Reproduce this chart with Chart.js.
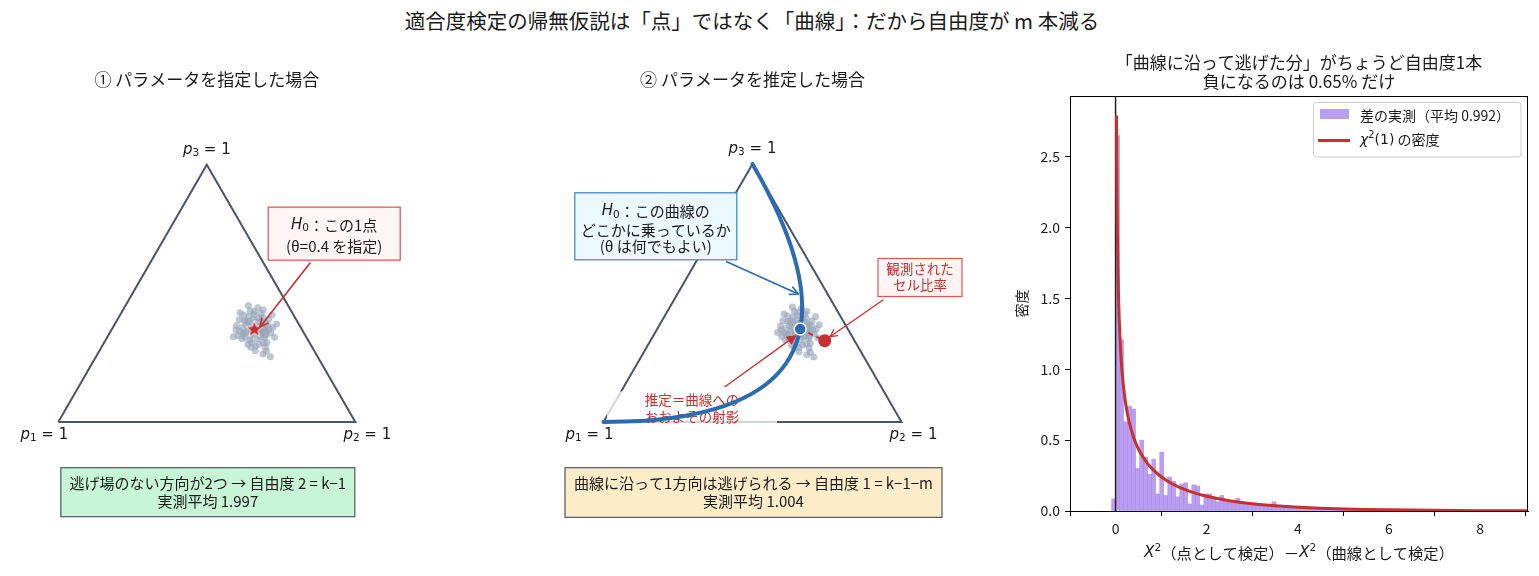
<!DOCTYPE html>
<html><head><meta charset="utf-8">
<script src="https://cdn.jsdelivr.net/npm/chart.js@4.4.1/dist/chart.umd.min.js"></script>
<style>
html,body{margin:0;padding:0;background:#fff;}
#wrap{position:relative;width:1539px;height:576px;overflow:hidden;background:#fff;}
canvas{position:absolute;top:0;}
#suptitle{position:absolute;left:0;top:0;width:1504px;text-align:center;font-size:20.5px;font-family:"Noto Sans CJK JP","Noto Sans",sans-serif;color:#1a1a1a;line-height:40px;white-space:nowrap;}
</style></head>
<body><div id="wrap">
<div id="suptitle">適合度検定の帰無仮説は「点」ではなく「曲線」：だから自由度が m 本減る</div>
<canvas id="c1" width="500" height="576" style="left:0px"></canvas>
<canvas id="c2" width="500" height="576" style="left:500px"></canvas>
<canvas id="c3" width="539" height="576" style="left:1000px"></canvas>
</div>
<script>
// ================= DATA =================
const panelTitles = ['① パラメータを指定した場合', '② パラメータを推定した場合'];
const rightTitle = ['「曲線に沿って逃げた分」がちょうど自由度1本', '負になるのは 0.65% だけ'];
// simplex vertices (p1, p2, p3)
const simplexVertices = [[1,0,0],[0,1,0],[0,0,1]];
// H0 point (fixed parameter) and estimated / observed cell proportions (p1,p2,p3)
const h0Point = [0.16, 0.48, 0.36];
const estimatePoint = [0.16, 0.48, 0.36];
const observedPoint = [0.10, 0.585, 0.315];
// H0 curve (p2, p3) along theta
const hwCurveP2 = [0,0.095,0.18,0.255,0.32,0.375,0.42,0.455,0.48,0.495,0.5,0.495,0.48,0.455,0.42,0.375,0.32,0.255,0.18,0.095,0];
const hwCurveP3 = [0,0.0025,0.01,0.0225,0.04,0.0625,0.09,0.1225,0.16,0.2025,0.25,0.3025,0.36,0.4225,0.49,0.5625,0.64,0.7225,0.81,0.9025,1];
// simulated observed proportions, simplex-plane coordinates
const cloudFixed = [[0.662,0.308],[0.640,0.320],[0.681,0.295],[0.655,0.335],[0.690,0.318],[0.628,0.300],[0.670,0.280],[0.648,0.290],[0.700,0.305],[0.635,0.340],
[0.675,0.350],[0.620,0.318],[0.660,0.362],[0.695,0.285],[0.652,0.268],[0.685,0.338],[0.612,0.305],[0.705,0.325],[0.642,0.355],[0.668,0.322],
[0.658,0.296],[0.677,0.310],[0.630,0.285],[0.690,0.268],[0.715,0.300],[0.600,0.325],[0.646,0.375],[0.683,0.365],[0.625,0.360],[0.708,0.345],
[0.664,0.255],[0.638,0.262],[0.697,0.252],[0.672,0.385],[0.618,0.280],[0.722,0.318],[0.650,0.310],[0.672,0.300],[0.686,0.326],[0.636,0.308],
[0.656,0.346],[0.699,0.293],[0.610,0.345],[0.728,0.285],[0.663,0.240],[0.640,0.392],[0.690,0.378],[0.605,0.290],[0.720,0.360],[0.676,0.262],
[0.645,0.276],[0.668,0.338],[0.632,0.328],[0.694,0.310],[0.657,0.322],[0.680,0.288],[0.626,0.342],[0.702,0.268],[0.612,0.368],[0.735,0.330],
[0.660,0.372],[0.648,0.252],[0.688,0.352],[0.622,0.298],[0.710,0.312],[0.670,0.315],[0.652,0.302],[0.640,0.336],[0.684,0.304],[0.698,0.332],
[0.714,0.220],[0.689,0.229],[0.589,0.287],[0.598,0.310],[0.700,0.238]];
const cloudEstimated = [[0.655,0.300],[0.632,0.318],[0.674,0.290],[0.648,0.330],[0.684,0.312],[0.620,0.296],[0.662,0.274],[0.640,0.285],[0.692,0.300],[0.628,0.338],
[0.668,0.346],[0.612,0.314],[0.652,0.358],[0.688,0.280],[0.645,0.262],[0.678,0.334],[0.604,0.300],[0.698,0.322],[0.636,0.352],[0.660,0.318],
[0.650,0.292],[0.670,0.306],[0.622,0.280],[0.682,0.262],[0.708,0.296],[0.594,0.322],[0.640,0.372],[0.676,0.362],[0.618,0.356],[0.700,0.340],
[0.656,0.250],[0.630,0.258],[0.690,0.248],[0.664,0.382],[0.610,0.276],[0.714,0.312],[0.642,0.306],[0.664,0.296],[0.678,0.322],[0.628,0.304],
[0.648,0.342],[0.692,0.288],[0.602,0.340],[0.720,0.282],[0.656,0.236],[0.634,0.386],[0.682,0.372],[0.598,0.286],[0.712,0.354],[0.668,0.258],
[0.638,0.272],[0.660,0.334],[0.624,0.324],[0.686,0.306],[0.650,0.318],[0.672,0.284],[0.618,0.338],[0.694,0.264],[0.606,0.362],[0.724,0.326],
[0.652,0.368],[0.640,0.248],[0.680,0.348],[0.614,0.294],[0.702,0.308],[0.662,0.310],[0.644,0.298],[0.632,0.332],[0.676,0.300],[0.690,0.328],
[0.706,0.218],[0.682,0.226],[0.584,0.300],[0.596,0.308],[0.694,0.234]];
// histogram of difference (density)
const histBinCenters = [-0.044,0.044,0.132,0.22,0.308,0.396,0.484,0.572,0.66,0.748,0.836,0.924,1.012,1.1,1.188,1.276,1.364,1.452,1.54,1.628,1.716,1.804,1.892,1.98,2.068,2.156,2.244,2.332,2.42,2.508,2.596,2.684,2.772,2.86,2.948,3.036,3.124,3.212,3.3,3.388,3.476,3.564,3.652,3.74,3.828,3.916,4.004,4.092,4.18,4.268,4.356,4.444,4.532,4.62,4.708,4.796,4.884,4.972,5.06,5.148,5.236,5.324,5.412,5.5,5.588,5.676,5.764,5.852,5.94,6.028,6.116];
const histDensity = [0.085,2.65,1.21,0.63,0.74,0.72,0.30,0.50,0.38,0.26,0.366,0.12,0.415,0.11,0.24,0.21,0.10,0.19,0.20,0.05,0.185,0.176,0.042,
0.12,0.12,0.09,0.065,0.11,0.07,0.07,0.06,0.09,0.05,0.05,0.045,0.04,0.045,0.035,0.04,0.03,0.065,0.03,0.025,0.03,0.02,0.025,0.02,0.018,0.02,0.015,0.012,0.015,0.01,0.012,0.008,0.01,0.008,0.006,0.008,0.005,0.006,0.004,0.005,0.003,0.004,0.003,0.002,0.003,0.002,0.002,0.001];
// chi-square(1) density
const chiX = [0.02,0.025,0.03,0.04,0.05,0.06,0.07,0.08,0.1,0.12,0.15,0.2,0.25,0.3,0.4,0.5,0.6,0.7,0.8,1.0,1.25,1.5,1.75,2.0,2.5,3.0,3.5,4.0,4.5,5.0,5.5,6.0,7.0,8.0,9.0,9.5];
const chiY = [2.793,2.492,2.269,1.955,1.740,1.580,1.456,1.355,1.200,1.085,0.956,0.807,0.704,0.627,0.516,0.439,0.382,0.336,0.299,0.242,0.191,0.154,0.126,0.104,0.0723,0.0514,0.0371,0.0270,0.0198,0.0146,0.0109,0.0081,0.0046,0.0026,0.0015,0.0011];
const xTicks = [0,2,4,6,8];
const yTicks = [0,0.5,1.0,1.5,2.0,2.5];
const legendLabels = ['差の実測（平均 0.992）', 'χ²(1) の密度'];

// ================= HELPERS =================
const JP = '"Noto Sans CJK JP","Noto Sans",sans-serif';
const MATH = '"DejaVu Sans",sans-serif';
const S3 = Math.sqrt(3)/2;
const toXY = p => ({x: p[1] + p[2]/2, y: p[2]*S3});
const INK = '#1a1a1a';
const RED = '#c53030';
const BLUE = '#2b6cb0';
const SLATE = '#4a5568';
const PURPLE = 'rgba(159,122,234,0.72)';
const CLOUD = 'rgba(148,163,184,0.62)';

function segFont(s, size){
  if (s==='i') return `italic ${size}px ${MATH}`;
  if (s==='m') return `${size}px ${MATH}`;
  if (s==='sub'||s==='sup') return `${(size*0.7).toFixed(1)}px ${MATH}`;
  return `${size}px ${JP}`;
}
const norm = l => typeof l === 'string' ? [[l,'']] : l;
function richWidth(ctx, line, size){ let w=0; for (const [t,s] of norm(line)){ ctx.font=segFont(s,size); w+=ctx.measureText(t).width; } return w; }
function drawRich(ctx, line, x, y, size, color, align){
  const segs = norm(line); const w = richWidth(ctx, segs, size);
  let cx = align==='left' ? x : (align==='right' ? x-w : x-w/2);
  ctx.save(); ctx.fillStyle=color; ctx.textBaseline='middle'; ctx.textAlign='left';
  for (const [t,s] of segs){
    ctx.font = segFont(s,size);
    const dy = s==='sub' ? size*0.22 : (s==='sup' ? -size*0.33 : 0);
    ctx.fillText(t, cx, y+dy); cx += ctx.measureText(t).width;
  }
  ctx.restore();
}
function drawBox(ctx, cx, cy, w, h, fill, stroke, lw){
  ctx.save(); ctx.fillStyle=fill; ctx.fillRect(cx-w/2, cy-h/2, w, h);
  if (stroke){ ctx.strokeStyle=stroke; ctx.lineWidth=lw; ctx.strokeRect(cx-w/2, cy-h/2, w, h); }
  ctx.restore();
}
function textBox(ctx, cx, cy, w, h, lines, offs, size, color, fill, stroke, lw){
  if (fill) drawBox(ctx, cx, cy, w, h, fill, stroke, lw);
  lines.forEach((l,i)=>drawRich(ctx, l, cx, cy+offs[i], size, color, 'center'));
}
function drawArrow(ctx, x1,y1,x2,y2,color,lw,filled,hl,hw){
  const a = Math.atan2(y2-y1, x2-x1), c=Math.cos(a), s=Math.sin(a);
  const bx = x2-hl*c, by = y2-hl*s, nx=-s, ny=c;
  ctx.save(); ctx.strokeStyle=color; ctx.fillStyle=color; ctx.lineWidth=lw; ctx.lineCap='round'; ctx.lineJoin='round';
  ctx.beginPath(); ctx.moveTo(x1,y1); ctx.lineTo(filled?bx:x2, filled?by:y2); ctx.stroke();
  ctx.beginPath(); ctx.moveTo(bx+nx*hw, by+ny*hw); ctx.lineTo(x2,y2); ctx.lineTo(bx-nx*hw, by-ny*hw);
  if (filled){ ctx.closePath(); ctx.fill(); } else ctx.stroke();
  ctx.restore();
}
function makeStar(R, r, fill, stroke){
  const c=document.createElement('canvas'); const n=Math.ceil(2*R+4); c.width=n; c.height=n;
  const g=c.getContext('2d'); g.translate(n/2,n/2); g.beginPath();
  for (let i=0;i<10;i++){ const a=-Math.PI/2+i*Math.PI/5, rr=i%2?r:R; g.lineTo(rr*Math.cos(a), rr*Math.sin(a)); }
  g.closePath(); g.fillStyle=fill; g.fill(); g.lineWidth=1; g.strokeStyle=stroke; g.stroke();
  return c;
}
const vertLabel = n => [['p','i'],[String(n),'sub'],[' = 1','m']];
const H0 = t => [['H','i'],['0','sub'],[t,'']];

const triangleXY = simplexVertices.concat([simplexVertices[0]]).map(toXY);
const baseOpts = (xmin,xmax,ymin,ymax) => ({
  responsive:false, maintainAspectRatio:false, animation:false, devicePixelRatio:1, events:[],
  layout:{padding:0, autoPadding:false},
  scales:{ x:{type:'linear', display:false, min:xmin, max:xmax}, y:{type:'linear', display:false, min:ymin, max:ymax} },
  plugins:{ legend:{display:false}, tooltip:{enabled:false}, title:{display:false} }
});

function simplexLabels(chart, ctx, titleText){
  const P = (x,y)=>[chart.scales.x.getPixelForValue(x), chart.scales.y.getPixelForValue(y)];
  const v = simplexVertices.map(toXY).map(q=>P(q.x,q.y));
  drawRich(ctx, vertLabel(1), v[0][0]-14, v[0][1]+13, 15, INK, 'center');
  drawRich(ctx, vertLabel(2), v[1][0]+12, v[1][1]+13, 15, INK, 'center');
  drawRich(ctx, vertLabel(3), v[2][0], v[2][1]-15, 15, INK, 'center');
  drawRich(ctx, titleText, v[2][0], 80, 17, INK, 'center');
  return P;
}

// ================= LEFT PANEL =================
const leftAnnot = {
  id:'leftAnnot',
  afterDatasetsDraw(chart){
    const ctx = chart.ctx;
    const P = simplexLabels(chart, ctx, panelTitles[0]);
    let [bx,by] = P(0.929, 0.6342);
    textBox(ctx, bx, by, 132, 53, [H0('：この1点'), '(θ=0.4 を指定)'], [-8.7, 12.3], 15, INK, '#fff5f5', '#d9534f', 1.2);
    const a = P(0.8475,0.5354), b = P(0.6791,0.3199);
    drawArrow(ctx, a[0],a[1], b[0],b[1], RED, 1.6, false, 8, 4);
    [bx,by] = P(0.5035,-0.2364);
    textBox(ctx, bx, by, 294, 49, ['逃げ場のない方向が2つ → 自由度 2 = k−1', '実測平均 1.997'], [-9, 8.8], 15, INK, '#c6f6d5', SLATE, 1.2);
  }
};
new Chart(document.getElementById('c1'), {
  type:'scatter',
  data:{ datasets:[
    { data: triangleXY, showLine:true, borderColor:SLATE, borderWidth:2, pointRadius:0, tension:0, order:3 },
    { data: cloudFixed.map(([x,y])=>({x,y})), pointRadius:3.5, backgroundColor:CLOUD, borderWidth:0, order:2 },
    { data: [toXY(h0Point)], pointStyle: makeStar(9, 3.8, RED, '#ffffff'), pointRadius:8, order:1 }
  ]},
  options: baseOpts(-58.3/297, (500-58.3)/297, -154/297, 422/297),
  plugins:[leftAnnot]
});

// ================= MIDDLE PANEL =================
const midAnnot = {
  id:'midAnnot',
  afterDatasetDraw(chart, args){
    if (args.index !== 0) return;
    const ctx = chart.ctx;
    const P = (x,y)=>[chart.scales.x.getPixelForValue(x), chart.scales.y.getPixelForValue(y)];
    const [cx,cy] = P(0.297, 0.0458);
    ctx.save(); ctx.fillStyle='rgba(255,255,255,0.75)'; ctx.fillRect(cx-85, cy-17, 170, 36); ctx.restore();
    textBox(ctx, cx, cy, 0, 0, ['推定＝曲線への','おおよその射影'], [-8.3, 8.3], 13.5, RED, null);
  },
  afterDatasetsDraw(chart){
    const ctx = chart.ctx;
    const P = simplexLabels(chart, ctx, panelTitles[1]);
    let [bx,by] = P(0.1755, 0.6567);
    textBox(ctx, bx, by, 162, 67, [H0('：この曲線の'), 'どこかに乗っているか', '(θ は何でもよい)'], [-14.7, 3.6, 20.3], 15, INK, '#ebf8ff', '#3182ce', 1.2);
    let a = P(0.4134,0.5379), b = P(0.6537,0.4295);
    drawArrow(ctx, a[0],a[1], b[0],b[1], BLUE, 1.6, false, 8, 4);
    [bx,by] = P(1.0621, 0.4849);
    textBox(ctx, bx, by, 84, 38, ['観測された','セル比率'], [-8.8, 7.6], 13.5, RED, '#fff5f5', '#e05555', 1.2);
    a = P(0.9379,0.4094); b = P(0.7601,0.2862);
    drawArrow(ctx, a[0],a[1], b[0],b[1], RED, 1.3, false, 7, 3.5);
    a = P(0.4077,0.1185); b = P(0.6483,0.2919);
    drawArrow(ctx, a[0],a[1], b[0],b[1], RED, 1.3, true, 10, 5);
    [bx,by] = P(0.5034,-0.2366);
    textBox(ctx, bx, by, 377, 49.6, ['曲線に沿って1方向は逃げられる → 自由度 1 = k−1−m', '実測平均 1.004'], [-9.2, 8.5], 15, INK, '#feebc8', SLATE, 1.2);
  }
};
new Chart(document.getElementById('c2'), {
  type:'scatter',
  data:{ datasets:[
    { data: triangleXY, showLine:true, borderColor:SLATE, borderWidth:2, pointRadius:0, tension:0, order:7 },
    { data: cloudEstimated.map(([x,y])=>({x,y})), pointRadius:3.5, backgroundColor:CLOUD, borderWidth:0, order:6 },
    { data: hwCurveP2.map((p2,i)=>toXY([1-p2-hwCurveP3[i], p2, hwCurveP3[i]])), showLine:true, borderColor:BLUE, borderWidth:4, pointRadius:0, tension:0.4, borderCapStyle:'round', order:5 },
    { data: [toXY(estimatePoint), toXY(observedPoint)], showLine:true, borderColor:RED, borderWidth:2, borderDash:[5,4], pointRadius:0, order:4 },
    { data: [toXY(observedPoint)], pointRadius:6.5, backgroundColor:RED, borderWidth:0, order:3 },
    { data: [toXY(estimatePoint)], pointRadius:6, backgroundColor:BLUE, borderColor:'#ffffff', borderWidth:1.5, order:2 }
  ]},
  options: baseOpts(-103.5/298, (500-103.5)/298, -154/298, 422/298),
  plugins:[midAnnot]
});

// ================= RIGHT PANEL =================
const rightAnnot = {
  id:'rightAnnot',
  afterDatasetDraw(chart, args){
    if (args.index !== 1) return;
    const ctx=chart.ctx, ca=chart.chartArea, x0=chart.scales.x.getPixelForValue(0);
    ctx.save(); ctx.strokeStyle='#222'; ctx.lineWidth=1.5; ctx.beginPath(); ctx.moveTo(x0, ca.top); ctx.lineTo(x0, ca.bottom); ctx.stroke(); ctx.restore();
  },
  afterDraw(chart){
    const ctx=chart.ctx, ca=chart.chartArea;
    ctx.save(); ctx.strokeStyle='#000'; ctx.lineWidth=1;
    ctx.strokeRect(Math.round(ca.left)+0.5, Math.round(ca.top)+0.5, Math.round(ca.right-ca.left)-1, Math.round(ca.bottom-ca.top));
    ctx.restore();
    const mid = (ca.left+ca.right)/2;
    drawRich(ctx, rightTitle[0], mid, 63, 17, INK, 'center');
    drawRich(ctx, rightTitle[1], mid, 82, 17, INK, 'center');
    drawRich(ctx, [['X','i'],['2','sup'],['（点として検定）－','' ],['X','i'],['2','sup'],['（曲線として検定）','']], mid, 553, 15.3, INK, 'center');
    ctx.save(); ctx.translate(22, (ca.top+ca.bottom)/2); ctx.rotate(-Math.PI/2);
    drawRich(ctx, '密度', 0, 0, 14, INK, 'center'); ctx.restore();
    // legend
    const lx = ca.right-214.5, ly = ca.top+6.5;
    ctx.save();
    ctx.beginPath(); ctx.roundRect(lx, ly, 207.5, 54.5, 3);
    ctx.fillStyle='rgba(255,255,255,0.8)'; ctx.fill(); ctx.strokeStyle='#cccccc'; ctx.lineWidth=1; ctx.stroke();
    ctx.fillStyle=PURPLE; ctx.fillRect(lx+6.5, ly+6.5, 29, 10);
    ctx.strokeStyle=RED; ctx.lineWidth=3; ctx.beginPath(); ctx.moveTo(lx+4.5, ly+38); ctx.lineTo(lx+36.5, ly+38); ctx.stroke();
    ctx.restore();
    drawRich(ctx, legendLabels[0], lx+46.5, ly+13, 14, INK, 'left');
    drawRich(ctx, [['χ','i'],['2','sup'],['(1)','m'],[' の密度','']], lx+46.5, ly+37.5, 14, INK, 'left');
  }
};
new Chart(document.getElementById('c3'), {
  type:'bar',
  data:{ datasets:[
    { type:'line', label:legendLabels[1], data: chiX.map((x,i)=>({x, y:chiY[i]})), borderColor:RED, borderWidth:3, pointRadius:0, cubicInterpolationMode:'monotone', order:1 },
    { type:'bar', label:legendLabels[0], data: histBinCenters.map((x,i)=>({x, y:histDensity[i]})), backgroundColor:PURPLE, borderWidth:0, barPercentage:1, categoryPercentage:1, order:3 }
  ]},
  options:{
    responsive:false, maintainAspectRatio:false, animation:false, devicePixelRatio:1, events:[],
    layout:{ padding:{ top:96, right:11, left:0, bottom:0 }, autoPadding:false },
    scales:{
      x:{ type:'linear', min:-1, max:9.05, offset:false,
          afterBuildTicks: s => { s.ticks = xTicks.map(v=>({value:v})); },
          afterFit: s => { s.height = 65; },
          grid:{ display:true, drawOnChartArea:false, drawTicks:true, tickLength:5, color:'#000', lineWidth:1 },
          border:{ display:true, color:'#000', width:1 },
          ticks:{ padding:4, color:INK, font:{ family:JP, size:14 }, callback: v => String(v), maxRotation:0, autoSkip:false } },
      y:{ type:'linear', min:0, max:2.93,
          afterBuildTicks: s => { s.ticks = yTicks.map(v=>({value:v})); },
          afterFit: s => { s.width = 70; },
          grid:{ display:true, drawOnChartArea:false, drawTicks:true, tickLength:5, color:'#000', lineWidth:1 },
          border:{ display:true, color:'#000', width:1 },
          ticks:{ padding:5, color:INK, font:{ family:JP, size:14 }, callback: v => Number(v).toFixed(1), autoSkip:false } }
    },
    plugins:{ legend:{display:false}, tooltip:{enabled:false}, title:{display:false} }
  },
  plugins:[rightAnnot]
});
</script>
</body></html>
